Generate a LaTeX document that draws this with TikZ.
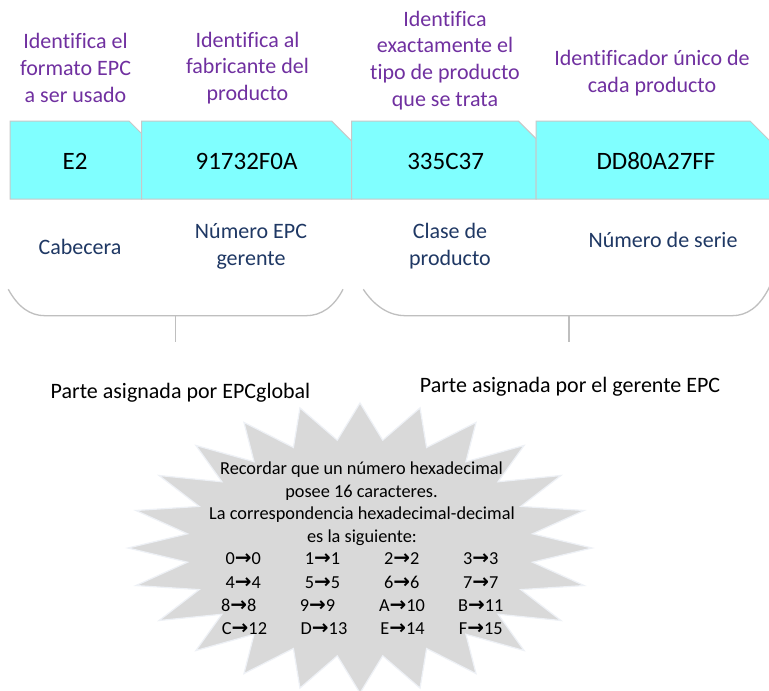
\documentclass[tikz,border=0pt]{standalone}
\usepackage{fontspec}
\setmainfont{Carlito}[Ligatures=NoCommon]
\newfontfamily\arrowfont{DejaVu Sans}
\definecolor{purp}{HTML}{7030A0}
\definecolor{navyc}{HTML}{1F3864}
\definecolor{cyanfill}{HTML}{80FFFF}
\definecolor{boxline}{HTML}{C8C8C8}
\definecolor{bracec}{HTML}{BFBFBF}
\definecolor{starfill}{HTML}{D9D9D9}
\definecolor{starline}{HTML}{EEF1F6}
\newcommand{\harr}{{\arrowfont\bfseries\fontsize{20}{23}\selectfont\char"2192}}
\begin{document}
\begin{tikzpicture}[x=1pt,y=-1pt,
  purptxt/.style={text=purp, font=\fontsize{22}{26.8}\selectfont, align=center, inner sep=0pt},
  navytxt/.style={text=navyc, font=\fontsize{22}{26.8}\selectfont, align=center, inner sep=0pt},
  boxtxt/.style={text=black, font=\fontsize{25}{30}\selectfont, inner sep=0pt},
  parttxt/.style={text=black, font=\fontsize{22}{26}\selectfont, inner sep=0pt},
  startxt/.style={text=black, font=\fontsize{18.3}{23}\selectfont, inner sep=0pt},
  cyanbox/.style={fill=cyanfill, draw=boxline, line width=1pt, line join=miter},
  bracestyle/.style={draw=bracec, line width=1.3pt},
  starstyle/.style={fill=starfill, draw=starline, line width=1.2pt, line join=miter}
]
\useasboundingbox (0,0) rectangle (769,691);
\clip (0,0) rectangle (769,691);
\fill[white] (0,0) rectangle (769,691);

% top descriptions
\node[purptxt] (d1) at (75.5,68) {Identifica el\\formato EPC\\a ser usado};
\node[purptxt] (d2) at (247.5,68) {Identifica al\\fabricante del\\producto};
\node[purptxt] (d3) at (445,60.5) {Identifica\\exactamente el\\tipo de producto\\que se trata};
\node[purptxt] (d4) at (652,73.5) {Identificador único de\\cada producto};

% boxes
\draw[cyanbox] (10,121) -- (129,121) -- (141.7,133.7) -- (141.7,199) -- (10,199) -- cycle;
\draw[cyanbox] (141.7,121) -- (331.7,121) -- (351.7,141) -- (351.7,199) -- (141.7,199) -- cycle;
\draw[cyanbox] (351.7,121) -- (518.3,121) -- (536,138.7) -- (536,199) -- (351.7,199) -- cycle;
\draw[cyanbox] (536,121) -- (750,121) -- (770,141) -- (770,199) -- (536,199) -- cycle;

\node[boxtxt] (b1) at (75,161) {E2};
\node[boxtxt] (b2) at (246.6,161) {91732F0A};
\node[boxtxt] (b3) at (445.6,161) {335C37};
\node[boxtxt] (b4) at (656,161) {DD80A27FF};

% field names
\node[navytxt] (n1) at (80,247) {Cabecera};
\node[navytxt] (n2) at (251,246.5) {Número EPC\\gerente};
\node[navytxt] (n3) at (450,246) {Clase de\\producto};
\node[navytxt] (n4) at (663,240) {Número de serie};

% braces
\draw[bracestyle] (8.3,289.3) .. controls (18,307) and (30,315.7) .. (45,315.7) -- (306,315.7) .. controls (321,315.7) and (334,307) .. (343,289.3);
\coordinate (lbtop) at (175.7,315.7);
\coordinate (lbbot) at (175.7,341.7);
\draw[bracestyle] (lbtop) -- (lbbot);
\draw[bracestyle] (363.3,289.3) .. controls (375,307) and (390,315.7) .. (405,315.7) -- (732,315.7) .. controls (747,315.7) and (759,307) .. (768.3,289.3) -- (772,282);
\coordinate (rbtop) at (569,315.7);
\coordinate (rbbot) at (569,341.7);
\draw[bracestyle] (rbtop) -- (rbbot);

\node[parttxt] (p1) at (180.5,393) {Parte asignada por EPCglobal};
\node[parttxt] (p2) at (570,387) {Parte asignada por el gerente EPC};

% starburst
\draw[starstyle] plot[domain=0:47, samples=48, variable=\k]
  ({360+ifthenelse(mod(round(\k),2)==0,232,174)*cos(90+7.5*\k)},
   {548-ifthenelse(mod(round(\k),2)==0,145,108.75)*sin(90+7.5*\k)}) -- cycle;

\node[startxt] (s1) at (361.5,470) {Recordar que un número hexadecimal};
\node[startxt] (s2) at (361.5,493) {posee 16 caracteres.};
\node[startxt] (s3) at (362,515) {La correspondencia hexadecimal-decimal};
\node[startxt] (s4) at (362,538) {es la siguiente:};

\node[startxt] (h0) at (243.3,559) {0\harr0};
\node[startxt] (h1) at (322.5,559) {1\harr1};
\node[startxt] (h2) at (401.7,559) {2\harr2};
\node[startxt] (h3) at (480.8,559) {3\harr3};
\node[startxt] (h4) at (243.3,582.5) {4\harr4};
\node[startxt] (h5) at (322.5,582.5) {5\harr5};
\node[startxt] (h6) at (401.7,582.5) {6\harr6};
\node[startxt] (h7) at (480.8,582.5) {7\harr7};
\node[startxt] (h8) at (238.8,605.5) {8\harr8};
\node[startxt] (h9) at (317.5,605.5) {9\harr9};
\node[startxt] (hA) at (402,605.5) {A\harr10};
\node[startxt] (hB) at (480.8,605.5) {B\harr11};
\node[startxt] (hC) at (244.5,628.5) {C\harr12};
\node[startxt] (hD) at (324,628.5) {D\harr13};
\node[startxt] (hE) at (402.5,628.5) {E\harr14};
\node[startxt] (hF) at (480.8,628.5) {F\harr15};
\end{tikzpicture}
\end{document}
